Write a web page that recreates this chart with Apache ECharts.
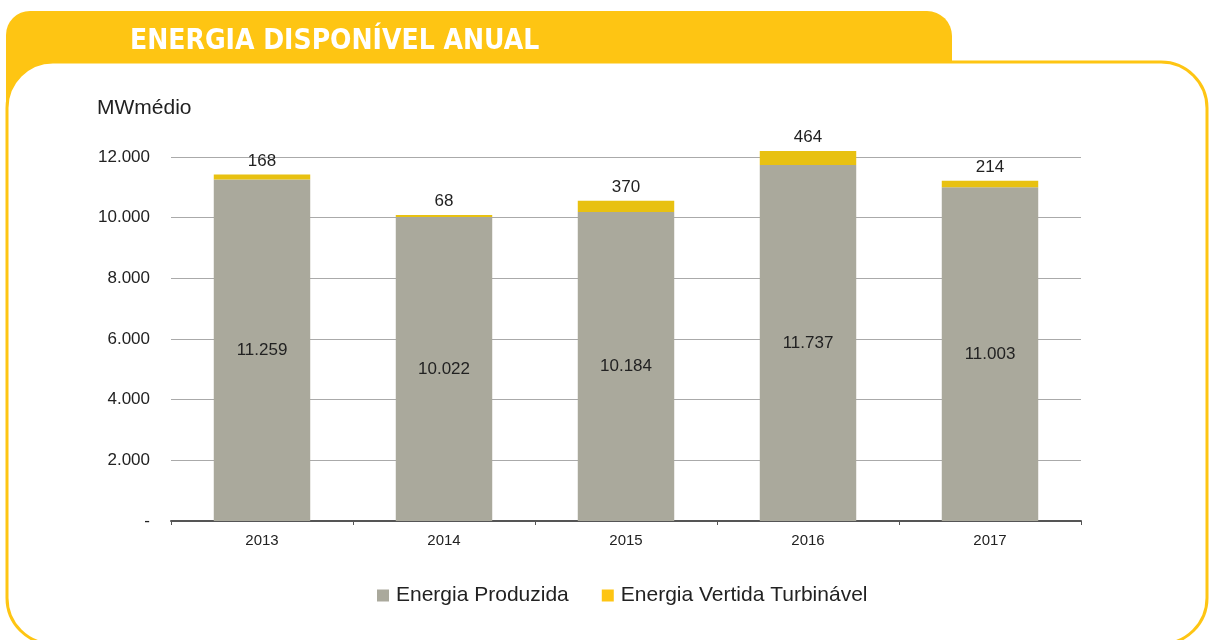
<!DOCTYPE html>
<html>
<head>
<meta charset="utf-8">
<title>Energia Disponível Anual</title>
<script src="https://cdn.jsdelivr.net/npm/echarts@6/dist/echarts.min.js"></script>
<style>
  html, body { margin: 0; padding: 0; background: #fff; }
  #chart { width: 1210px; height: 640px; }
</style>
</head>
<body>
<div id="chart"></div>
<script>
// dados
var anos = ['2013', '2014', '2015', '2016', '2017'];
var produzida = [11259, 10022, 10184, 11737, 11003];
var vertida = [168, 68, 370, 464, 214];
var yTicks = [0, 2000, 4000, 6000, 8000, 10000, 12000];

var AMARELO = '#fec513';
var fonte = '"Liberation Sans", Arial, sans-serif';

function fmt(v) {
  if (v === 0) return '-';
  return String(v).replace(/\B(?=(\d{3})+(?!\d))/g, '.');
}

var myChart = echarts.init(document.getElementById('chart'), null, { renderer: 'canvas' });

var option = {
  backgroundColor: '#fff',
  animation: false,
  graphic: [
    // aba amarela do título
    {
      type: 'rect', z: -20,
      shape: { x: 6, y: 11, width: 946, height: 110, r: [24, 25, 0, 0] },
      style: { fill: AMARELO }
    },
    // painel branco com borda amarela
    {
      type: 'rect', z: -10,
      shape: { x: 7, y: 62, width: 1200, height: 582, r: 46 },
      style: { fill: '#fff', stroke: AMARELO, lineWidth: 3 }
    },
    {
      type: 'text', z: 5, left: 130, top: 28,
      style: {
        text: 'ENERGIA DISPONÍVEL ANUAL',
        fill: '#fff',
        font: 'bold 28px "DejaVu Sans Condensed", "Open Sans", sans-serif'
      }
    },
    {
      type: 'text', z: 5, left: 97, top: 98,
      style: { text: 'MWmédio', fill: '#222', font: '21px ' + fonte }
    }
  ],
  legend: {
    bottom: 29,
    left: 372,
    itemWidth: 12,
    itemHeight: 12,
    itemGap: 33,
    icon: 'rect',
    textStyle: { fontFamily: fonte, fontSize: 21, color: '#222', padding: [0, 0, 0, 2] },
    data: [
      { name: 'Energia Produzida', itemStyle: { color: '#aaa99c' } },
      { name: 'Energia Vertida Turbinável', itemStyle: { color: AMARELO } }
    ]
  },
  grid: { left: 171, top: 157, width: 910, height: 364 },
  xAxis: {
    type: 'category',
    data: anos,
    axisLine: { lineStyle: { color: '#555', width: 2 } },
    axisTick: { show: true, length: 4, lineStyle: { color: '#555' } },
    axisLabel: { fontFamily: fonte, fontSize: 15, color: '#222', margin: 12 }
  },
  yAxis: {
    type: 'value',
    min: 0,
    max: 12000,
    interval: 2000,
    axisLine: { show: false },
    axisTick: { show: false },
    splitLine: { lineStyle: { color: '#aaa', width: 1 } },
    axisLabel: {
      fontFamily: fonte, fontSize: 17, color: '#222', margin: 21,
      formatter: function (v) { return yTicks.indexOf(v) >= 0 ? fmt(v) : ''; }
    }
  },
  series: [
    {
      name: 'Energia Produzida',
      type: 'bar',
      stack: 'total',
      barWidth: '53%',
      clip: false,
      itemStyle: { color: '#aaa99c' },
      label: {
        show: true, position: 'inside',
        fontFamily: fonte, fontSize: 17, color: '#222',
        formatter: function (p) { return fmt(p.value); }
      },
      data: produzida
    },
    {
      name: 'Energia Vertida Turbinável',
      type: 'bar',
      stack: 'total',
      barWidth: '53%',
      clip: false,
      itemStyle: { color: '#e8c111' },
      label: {
        show: true, position: 'top', distance: 5,
        fontFamily: fonte, fontSize: 17, color: '#222',
        formatter: function (p) { return fmt(p.value); }
      },
      data: vertida
    }
  ]
};

myChart.setOption(option);
</script>
</body>
</html>
